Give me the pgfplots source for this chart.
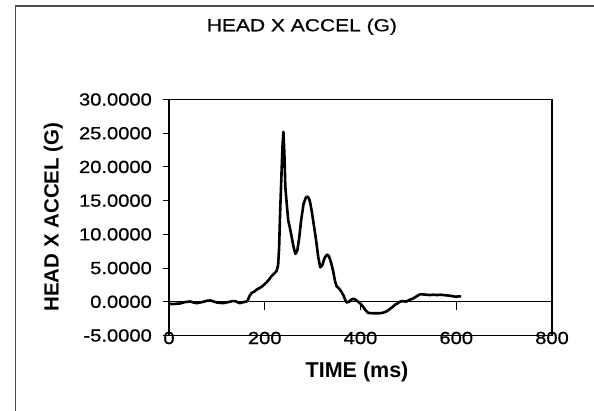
\documentclass[border=0pt]{standalone}
\usepackage{pgfplots}
\pgfplotsset{compat=1.18}
\usepackage{fontspec}
\setmainfont{Liberation Sans}
\newfontfamily\tickfont[FakeStretch=1.15,FakeBold=0.8]{Liberation Sans}
\newfontfamily\titlefont[FakeStretch=1.2,FakeBold=0.6]{Liberation Sans}
\pgfplotstableread{
t a
0 -0.3
6 -0.34
15 -0.3
23 -0.25
33 -0.05
44 0.05
51 -0.1
58 -0.2
65 -0.1
72 0
79 0.15
86 0.2
93 0.05
100 -0.1
107 -0.15
113 -0.2
120 -0.1
127 0
133 0.1
138 0.1
143 -0.05
148 -0.2
153 -0.1
159 0
164 0.1
168 0.85
173 1.33
178 1.5
183 1.8
188 2.0
193 2.2
198 2.5
204 2.9
209 3.3
214 3.8
220 4.2
225 4.6
228 5.5
230 8
232 13
235 19
237 23
239 25.2
241 22
243 17
246 14.5
249 12.1
253 10.8
256 9.7
260 8.2
264 7.1
268 7.6
272 9.5
276 12.1
281 14.5
286 15.5
290 15.6
294 15.0
298 13.5
301 12.1
305 10.2
308 8.7
312 6.5
316 5.1
320 5.4
325 6.5
330 7.0
334 6.8
339 5.7
343 4.5
347 3.0
350 2.3
355 2.0
360 1.5
364 1.0
368 0.3
371 -0.1
376 0
380 0.3
385 0.45
390 0.3
395 0
399 -0.2
405 -0.7
410 -1.2
416 -1.65
425 -1.7
440 -1.7
448 -1.6
455 -1.4
461 -1.1
468 -0.7
473 -0.4
478 -0.2
482 0
487 0.1
492 0.05
496 0.05
503 0.3
510 0.5
517 0.8
524 1.1
530 1.1
537 1.05
545 1.0
552 1.05
560 1.0
567 1.05
573 1.0
580 0.95
587 0.9
594 0.8
600 0.75
604 0.8
610 0.8
}\accel
\begin{document}
\begin{tikzpicture}[x=1pt,y=1pt]
\path[use as bounding box] (0,0) rectangle (594,410);
\draw[line width=1.2pt, black!70] (15.5,-5) -- (15.5,404) -- (600,404);
\begin{axis}[
  at={(169pt,74.5pt)}, anchor=south west,
  scale only axis, width=383pt, height=236pt,
  xmin=0, xmax=800, ymin=-5, ymax=30,
  axis background/.style={draw=black, line width=1.8pt},
  axis line style={line width=1.8pt},
  xtick={0,200,400,600,800},
  ytick={-5,0,5,10,15,20,25,30},
  xtick style={draw=none},
  ytick pos=left,
  tick align=outside,
  major tick length=6pt,
  ytick style={line width=1pt, black},
  /pgf/number format/assume math mode=true,
  yticklabel={\pgfmathprintnumber[fixed,fixed zerofill,precision=4]{\tick}},
  scaled y ticks=false,
  tick label style={font=\tickfont\fontsize{17.5}{20}\selectfont},
  yticklabel style={anchor=east, inner sep=0pt, xshift=-11pt},
  xticklabel style={anchor=center, inner sep=0pt, yshift=3.5pt},
  title={HEAD X ACCEL (G)},
  title style={font=\titlefont\fontsize{17.5}{20}\selectfont, at={(axis description cs:0.347,1.2636)}, anchor=base},
  xlabel={TIME (ms)},
  xlabel style={font=\bfseries\fontsize{21.5}{24}\selectfont, at={(axis description cs:0.491,-0.155)}, anchor=center},
  ylabel={HEAD X ACCEL (G)},
  ylabel style={font=\bfseries\fontsize{20.5}{24}\selectfont, at={(axis description cs:-0.302,0.502)}, anchor=center, rotate=0},
]
\addplot[black, line width=2.6pt, line join=round] table[x=t,y=a] {\accel};
\end{axis}
\begin{axis}[
  at={(169pt,74.5pt)}, anchor=south west,
  scale only axis, width=383pt, height=236pt,
  xmin=0, xmax=800, ymin=-5, ymax=30,
  axis x line*=middle, axis y line=none,
  axis line style={line width=0.8pt},
  xtick={200,400,600}, xticklabels={},
  tick align=outside, major tick length=8pt,
  xtick style={line width=0.8pt, black},
]
\end{axis}
\end{tikzpicture}
\end{document}
